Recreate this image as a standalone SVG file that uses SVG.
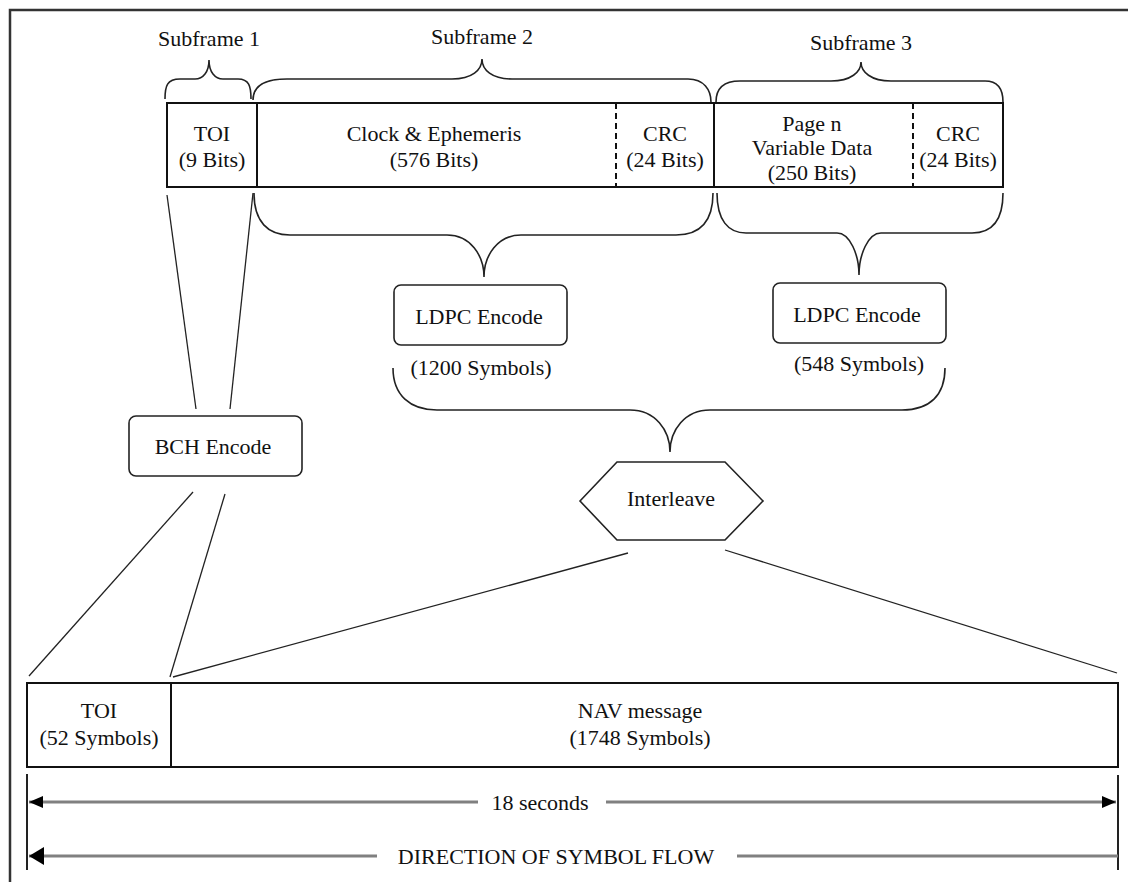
<svg xmlns="http://www.w3.org/2000/svg" width="1128" height="882" viewBox="0 0 1128 882">
<style>
text { font-family: "Liberation Serif", "DejaVu Serif", serif; font-size: 22px; fill: #111; text-anchor: middle; }
.box { fill: #fff; stroke: #111; stroke-width: 2; }
.div { stroke: #111; stroke-width: 2; fill: none; }
.dash { stroke: #111; stroke-width: 2; stroke-dasharray: 6 4; fill: none; }
.brace { stroke: #222; stroke-width: 1.6; fill: none; }
.conn { stroke: #222; stroke-width: 1.3; fill: none; }
.node { fill: #fff; stroke: #222; stroke-width: 1.6; }
.dim { stroke: #808080; stroke-width: 3; fill: none; }
.tick { stroke: #222; stroke-width: 2; }
</style>
<defs>
<marker id="ah" viewBox="0 0 14 12" refX="14" refY="6" markerWidth="14" markerHeight="12" markerUnits="userSpaceOnUse" orient="auto-start-reverse">
<path d="M0,0 L14,6 L0,12 Z" fill="#000"/>
</marker>
<marker id="ahBig" viewBox="0 0 15 18" refX="15" refY="9" markerWidth="15" markerHeight="18" markerUnits="userSpaceOnUse" orient="auto-start-reverse">
<path d="M0,0 L15,9 L0,18 Z" fill="#000"/>
</marker>
</defs>
<rect width="1128" height="882" fill="#fff"/>
<g id="frame">
<path d="M10,882 L10,10 L1128,10" fill="none" stroke="#333" stroke-width="2.5"/>
</g>
<g id="subframe-labels">
<text x="209" y="46">Subframe 1</text>
<text x="482" y="44">Subframe 2</text>
<text x="861" y="50">Subframe 3</text>
</g>
<g id="top-frame">
<rect class="box" x="167" y="103" width="836" height="84"/>
<line class="div" x1="257" y1="103" x2="257" y2="187"/>
<line class="dash" x1="616" y1="103" x2="616" y2="187"/>
<line class="div" x1="714" y1="103" x2="714" y2="187"/>
<line class="dash" x1="913" y1="103" x2="913" y2="187"/>
<text x="212" y="141">TOI</text>
<text x="212" y="167">(9 Bits)</text>
<text x="434" y="141">Clock &amp; Ephemeris</text>
<text x="434" y="167">(576 Bits)</text>
<text x="665" y="141">CRC</text>
<text x="665" y="167">(24 Bits)</text>
<text x="812" y="131">Page n</text>
<text x="812" y="155">Variable Data</text>
<text x="812" y="180">(250 Bits)</text>
<text x="958" y="141">CRC</text>
<text x="958" y="167">(24 Bits)</text>
</g>
<g id="ldpc1">
<rect class="node" x="394" y="285" width="173" height="60" rx="7"/>
<text x="479" y="324">LDPC Encode</text>
<text x="481" y="375">(1200 Symbols)</text>
</g>
<g id="ldpc2">
<rect class="node" x="773" y="283" width="173" height="60" rx="7"/>
<text x="857" y="322">LDPC Encode</text>
<text x="859" y="371">(548 Symbols)</text>
</g>
<g id="bch">
<rect class="node" x="129" y="416" width="173" height="60" rx="7"/>
<text x="213" y="454">BCH Encode</text>
</g>
<g id="interleave">
<polygon class="node" points="580,501 617,462 725,462 763,501 725,540 617,540"/>
<text x="671" y="506">Interleave</text>
</g>
<g id="nav-frame">
<rect class="box" x="27" y="683" width="1091" height="84"/>
<line class="div" x1="171" y1="683" x2="171" y2="767"/>
<text x="99" y="718">TOI</text>
<text x="99" y="745">(52 Symbols)</text>
<text x="640" y="718">NAV message</text>
<text x="640" y="745">(1748 Symbols)</text>
</g>
<g id="connectors">
<path class="brace" d="M165,99 C165,86 167,79 180,79 L195,79 C203,79 209,72 209,60 C209,72 215,79 223,79 L238,79 C249,79 251,86 251,99"/>
<path class="brace" d="M253,100 C253,88 262,79 287,79 L452,79 C472,79 482,70 482,59 C482,70 492,79 512,79 L688,79 C704,79 711,90 711,102"/>
<path class="brace" d="M716,102 C716,90 722,81 740,81 L831,81 C851,81 861,72 861,62 C861,72 871,81 891,81 L985,81 C998,81 1003,90 1003,102"/>
<path class="brace" d="M254,193 C254,222 268,235 290,235 L447,235 C470,235 484,255 484,277 C484,255 498,235 521,235 L676,235 C700,235 713,222 713,193"/>
<path class="brace" d="M717,193 C717,220 728,233 746,233 L837,233 C850,233 859,255 859,275 C859,255 868,233 881,233 L972,233 C992,233 1003,220 1003,193"/>
<path class="brace" d="M393,368 C393,395 410,410 437,410 L630,410 C655,410 670,430 670,452 C670,430 685,410 710,410 L902,410 C930,410 945,395 945,368"/>
<line class="conn" x1="167" y1="195" x2="196" y2="409"/>
<line class="conn" x1="253" y1="193" x2="230" y2="409"/>
<line class="conn" x1="193" y1="492" x2="29" y2="676"/>
<line class="conn" x1="225" y1="494" x2="170" y2="677"/>
<line class="conn" x1="628" y1="553" x2="173" y2="677"/>
<line class="conn" x1="725" y1="550" x2="1117" y2="673"/>
</g>
<g id="dimensions">
<line class="tick" x1="27" y1="774" x2="27" y2="870"/>
<line class="tick" x1="1118" y1="775" x2="1118" y2="870"/>
<line class="dim" x1="478" y1="802" x2="29" y2="802" marker-end="url(#ah)"/>
<line class="dim" x1="606" y1="802" x2="1116" y2="802" marker-end="url(#ah)"/>
<text x="540" y="810">18 seconds</text>
<line class="dim" x1="377" y1="856" x2="29" y2="856" marker-end="url(#ahBig)"/>
<line class="dim" x1="737" y1="856" x2="1118" y2="856"/>
<text x="556" y="864">DIRECTION OF SYMBOL FLOW</text>
</g>
</svg>
